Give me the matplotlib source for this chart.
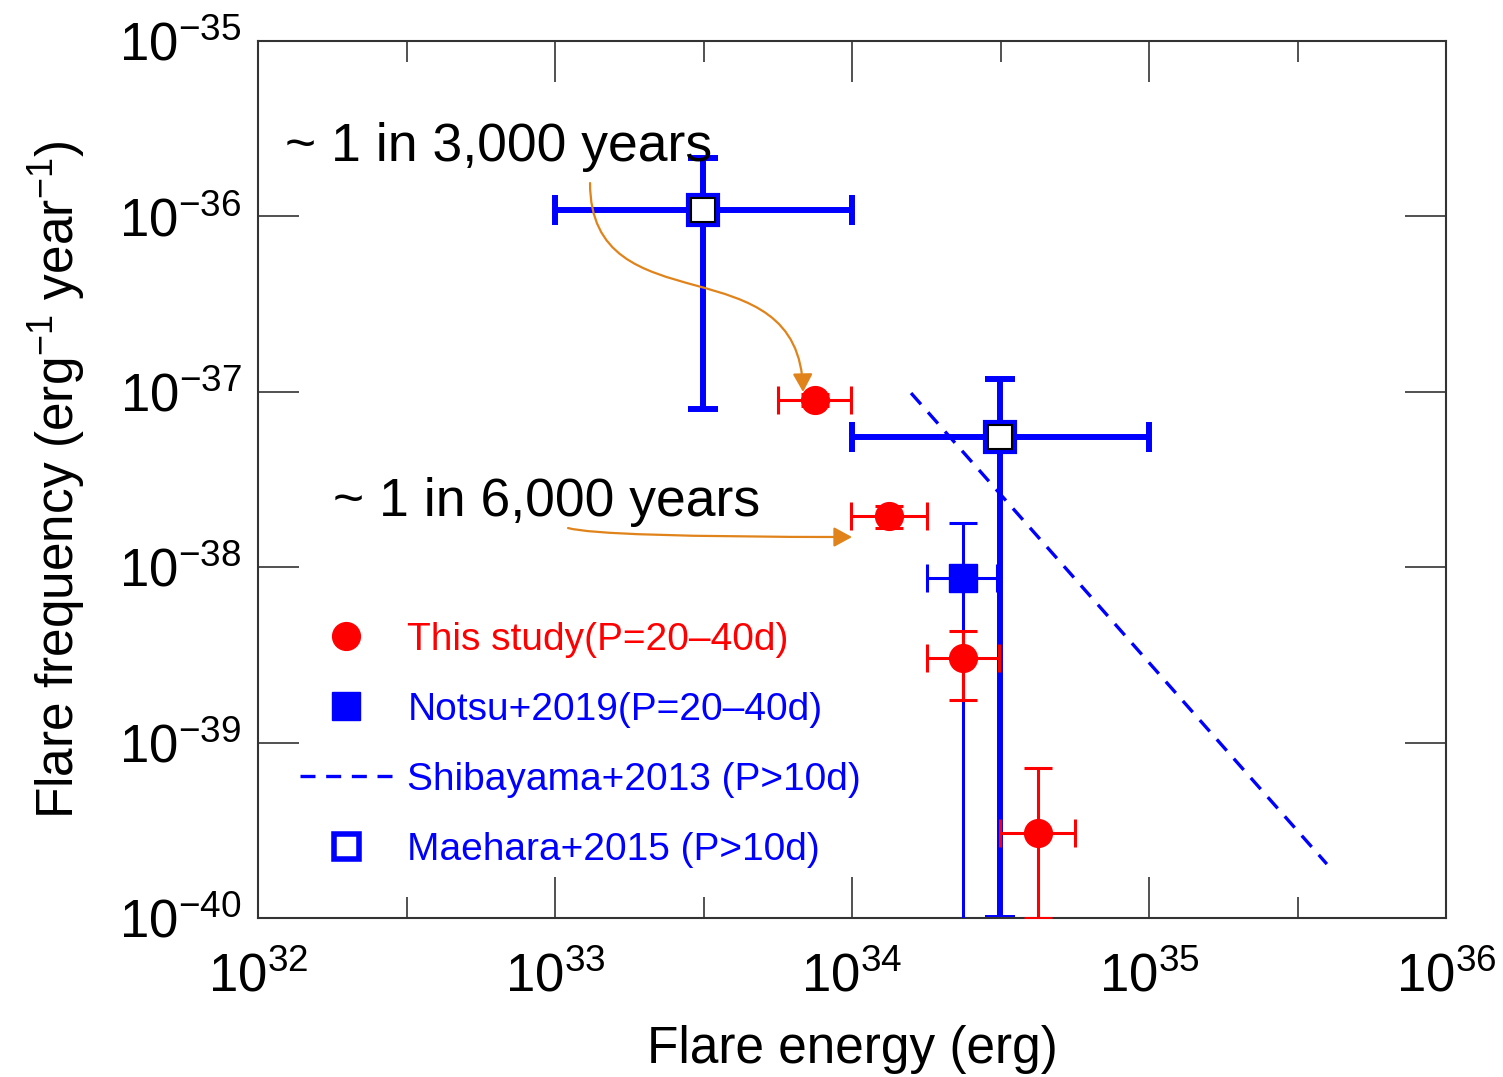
import numpy as np
import matplotlib
matplotlib.use("Agg")
import matplotlib.pyplot as plt
from matplotlib.lines import Line2D
from matplotlib.patches import FancyArrowPatch
from matplotlib.path import Path
from matplotlib.ticker import FixedLocator, FuncFormatter, NullFormatter

plt.rcParams['font.family'] = ['Liberation Sans', 'DejaVu Sans']
plt.rcParams['mathtext.fontset'] = 'custom'
plt.rcParams['mathtext.rm'] = 'Liberation Sans'
plt.rcParams['mathtext.it'] = 'Liberation Sans:italic'
plt.rcParams['mathtext.bf'] = 'Liberation Sans:bold'
plt.rcParams['mathtext.default'] = 'regular'

# This study (P = 20-40 d)
this_E = np.array([7.5e33, 1.33e34, 2.37e34, 4.23e34])
this_E_lo = np.array([5.64e33, 9.9e33, 1.79e34, 3.15e34])
this_E_hi = np.array([9.9e33, 1.79e34, 3.13e34, 5.64e34])
this_F = np.array([8.97e-38, 1.96e-38, 3.03e-39, 3.05e-40])
this_F_lo = np.array([8.3e-38, 1.67e-38, 1.75e-39, 1.0e-40])
this_F_hi = np.array([9.7e-38, 2.23e-38, 4.35e-39, 7.16e-40])

# Notsu+2019 (P = 20-40 d)
notsu_E = np.array([2.37e34])
notsu_E_lo = np.array([1.79e34])
notsu_E_hi = np.array([3.08e34])
notsu_F = np.array([8.7e-39])
notsu_F_lo = np.array([1.0e-41])
notsu_F_hi = np.array([1.79e-38])

# Maehara+2015 (P > 10 d)
mae_E = np.array([3.16e33, 3.15e34])
mae_E_lo = np.array([1.0e33, 1.0e34])
mae_E_hi = np.array([1.0e34, 1.0e35])
mae_F = np.array([1.09e-36, 5.5e-38])
mae_F_lo = np.array([8.0e-38, 1.0e-40])
mae_F_hi = np.array([2.15e-36, 1.18e-37])

# Shibayama+2013 (P > 10 d) power-law fit
shiba_E = np.array([1.58e34, 3.97e35])
shiba_F = np.array([9.84e-38, 2.03e-40])

legend_labels = ['This study(P=20\u201340d)', 'Notsu+2019(P=20\u201340d)',
                 'Shibayama+2013 (P>10d)', 'Maehara+2015 (P>10d)']
notes = ['~ 1 in 3,000 years', '~ 1 in 6,000 years']

fig = plt.figure(figsize=(15.03, 10.77), dpi=100)
ax = fig.add_axes([0.1717, 0.1476, 0.7904, 0.8143])
ax.set_xscale('log')
ax.set_yscale('log')
ax.set_xlim(1e32, 1e36)
ax.set_ylim(1e-40, 1e-35)


def err(v, lo, hi):
    return np.vstack([v - lo, hi - v])


# Maehara: thick blue bars, open square
ax.errorbar(mae_E, mae_F, xerr=err(mae_E, mae_E_lo, mae_E_hi),
            yerr=err(mae_F, mae_F_lo, mae_F_hi), fmt='none', ecolor='blue',
            elinewidth=4.3, capsize=11, capthick=4.3, zorder=2)
ax.plot(mae_E, mae_F, 's', ms=21, mfc='white', mec='blue', mew=3, zorder=3)
ax.plot(mae_E, mae_F, 's', ms=17, mfc='white', mec='black', mew=1.5, zorder=3.1)

# Shibayama dashed line
ax.plot(shiba_E, shiba_F, color='blue', lw=2.4, dashes=(4.5, 3.2), zorder=2.5)

# Notsu: filled blue square
ax.errorbar(notsu_E, notsu_F, xerr=err(notsu_E, notsu_E_lo, notsu_E_hi),
            yerr=err(notsu_F, notsu_F_lo, notsu_F_hi), fmt='s', ms=20,
            color='blue', elinewidth=2.2, capsize=10, capthick=2.2, zorder=4)

# This study: red circles
ax.errorbar(this_E, this_F, xerr=err(this_E, this_E_lo, this_E_hi),
            yerr=err(this_F, this_F_lo, this_F_hi), fmt='o', ms=20,
            color='red', elinewidth=2.2, capsize=10, capthick=2.2, zorder=5)

# axes styling
ax.xaxis.set_major_locator(FixedLocator(10.0 ** np.arange(32, 37)))
ax.xaxis.set_minor_locator(FixedLocator(10.0 ** (np.arange(32, 36) + 0.5)))
ax.yaxis.set_major_locator(FixedLocator(10.0 ** np.arange(-40, -34)))
ax.yaxis.set_minor_locator(FixedLocator([]))
fmt = FuncFormatter(lambda v, p: r'$10^{%d}$' % round(np.log10(v)))
ax.xaxis.set_major_formatter(fmt)
ax.yaxis.set_major_formatter(fmt)
ax.xaxis.set_minor_formatter(NullFormatter())
ax.tick_params(which='both', direction='in', top=True, right=True,
               labelsize=38, width=1.2, color='0.2')
ax.tick_params(which='major', length=29.5, pad=12)
ax.tick_params(axis='x', which='major', pad=25)
ax.tick_params(which='minor', length=15)
for s in ax.spines.values():
    s.set_linewidth(1.5)
    s.set_color('0.2')

ax.set_xlabel('Flare energy (erg)', fontsize=37, labelpad=16)
ax.set_ylabel(r'Flare frequency (erg$^{-1}$ year$^{-1}$)', fontsize=37, labelpad=22)

# legend
handles = [
    Line2D([], [], ls='none', marker='o', ms=20, color='red'),
    Line2D([], [], ls='none', marker='s', ms=20, color='blue'),
    Line2D([], [], color='blue', lw=2.4, dashes=(4.5, 3.2)),
    Line2D([], [], ls='none', marker='s', ms=18, mfc='white', mec='blue', mew=4),
]
ax.legend(handles, legend_labels, loc='upper left', bbox_to_anchor=(0.0354, 0.338),
          frameon=False, fontsize=28, handlelength=2.37, handletextpad=0.39,
          labelspacing=0.875, borderpad=0, borderaxespad=0,
          labelcolor=['red', 'blue', 'blue', 'blue'])

# annotations with orange arrows
ax.text(0.0227, 0.879, notes[0], transform=ax.transAxes, fontsize=38.5,
        ha='left', va='center', zorder=6)
ax.text(0.063, 0.474, notes[1], transform=ax.transAxes, fontsize=38.5,
        ha='left', va='center', zorder=6)


def px(x, y):
    return ((x - 258) / 1188, (918 - y) / 877)


arrow_color = '#E0831A'
p1 = Path([px(590, 183), px(590, 330), px(800, 240), px(803, 392)],
          [Path.MOVETO, Path.CURVE4, Path.CURVE4, Path.CURVE4])
p2 = Path([px(568, 528), px(600, 537), px(852, 537)],
          [Path.MOVETO, Path.CURVE3, Path.CURVE3])
for p in (p1, p2):
    a = FancyArrowPatch(path=p, transform=ax.transAxes, color=arrow_color,
                        arrowstyle='-|>,head_length=0.55,head_width=0.3',
                        mutation_scale=20, lw=1.6, zorder=6)
    ax.add_patch(a)

fig.savefig('out.png', dpi=100)
